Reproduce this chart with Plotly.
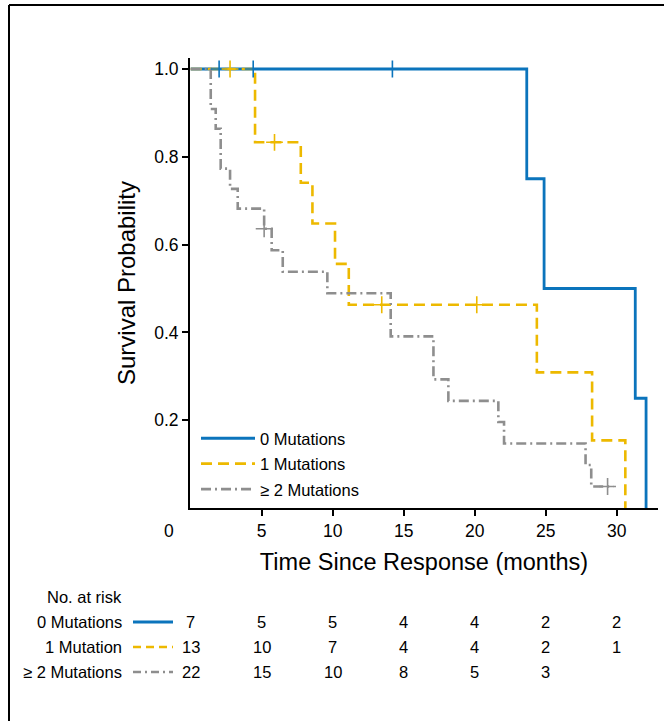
import plotly.graph_objects as go

# ---------------- data ----------------
groups = ["0 Mutations", "1 Mutations", "\u2265 2 Mutations"]
risk_labels = ["0 Mutations", "1 Mutation", "\u2265 2 Mutations"]

# Kaplan-Meier step points (time in months, survival probability)
t0 = [0, 23.66, 24.88, 31.3, 32.06]
s0 = [1.0, 0.75, 0.5, 0.25, 0.0]
c0_t = [2.0, 4.4, 14.2]
c0_s = [1.0, 1.0, 1.0]

t1 = [0, 4.53, 7.75, 8.57, 10.16, 11.13, 24.37, 28.26, 30.6]
s1 = [1.0, 0.833, 0.741, 0.648, 0.556, 0.463, 0.309, 0.154, 0.0]
c1_t = [2.77, 5.9, 13.45, 20.14]
c1_s = [1.0, 0.833, 0.463, 0.463]

t2 = [0, 1.41, 1.76, 2.11, 2.77, 3.31, 5.17, 5.7, 6.48, 9.62, 14.08,
      17.09, 18.14, 21.66, 22.06, 27.8, 28.2, 29.76]
s2 = [1.0, 0.909, 0.864, 0.773, 0.727, 0.682, 0.636, 0.587, 0.538, 0.489,
      0.391, 0.293, 0.244, 0.196, 0.147, 0.098, 0.049, 0.049]
c2_t = [5.17, 29.35]
c2_s = [0.636, 0.049]

x_ticks = [5, 10, 15, 20, 25, 30]
y_ticks = [0.2, 0.4, 0.6, 0.8, 1.0]
y_ticklabels = ["0.2", "0.4", "0.6", "0.8", "1.0"]

risk_times = [0, 5, 10, 15, 20, 25, 30]
risk_0 = [7, 5, 5, 4, 4, 2, 2]
risk_1 = [13, 10, 7, 4, 4, 2, 1]
risk_2 = [22, 15, 10, 8, 5, 3, None]

# ---------------- styles ----------------
FONT = "Liberation Sans, Arial, sans-serif"
colors = ["#0B74BC", "#EDB900", "#8E8E8E"]
dashes = ["solid", "11px,6px", "10px,4px,2px,4px"]
small_dashes = ["solid", "8px,5px", "8px,4px,2px,4px"]
widths = [2.8, 2.6, 2.6]

W, H = 664, 721
ML, MR, MT, MB = 190, 6, 58, 213
PW, PH = W - ML - MR, H - MT - MB


def px_x(p):
    return (p - ML) / PW


def px_y(p):
    return (H - MB - p) / PH


fig = go.Figure()

series = [(t0, s0, c0_t, c0_s), (t1, s1, c1_t, c1_s), (t2, s2, c2_t, c2_s)]
for i, (tt, ss, ct, cs) in enumerate(series):
    fig.add_trace(go.Scatter(
        x=tt, y=ss, mode="lines", name=groups[i], legendgroup="g%d" % i,
        line=dict(color=colors[i], width=widths[i], dash=dashes[i], shape="hv"),
        hoverinfo="skip",
    ))
for i, (tt, ss, ct, cs) in enumerate(series):
    fig.add_trace(go.Scatter(
        x=ct, y=cs, mode="markers", showlegend=False, legendgroup="g%d" % i,
        marker=dict(symbol="cross-thin", size=12,
                    line=dict(color=colors[i], width=1.6)),
        hoverinfo="skip",
    ))

annotations = []
# origin "0" label
annotations.append(dict(xref="paper", yref="paper", x=px_x(169), y=px_y(531),
                        text="0", showarrow=False, xanchor="center", yanchor="middle",
                        font=dict(family=FONT, size=17.5, color="black")))

# number at risk table
row_y = [622, 647, 672]
annotations.append(dict(xref="paper", yref="paper", x=px_x(124), y=px_y(597),
                        text="No. at risk", showarrow=False, xanchor="right",
                        yanchor="middle", font=dict(family=FONT, size=16.5, color="black")))
risks = [risk_0, risk_1, risk_2]
shapes = []
for i in range(3):
    annotations.append(dict(xref="paper", yref="paper", x=px_x(124), y=px_y(row_y[i]),
                            text=risk_labels[i], showarrow=False, xanchor="right",
                            yanchor="middle",
                            font=dict(family=FONT, size=16.5, color="black")))
    shapes.append(dict(type="line", xref="paper", yref="paper",
                       x0=px_x(133), x1=px_x(173), y0=px_y(row_y[i]), y1=px_y(row_y[i]),
                       line=dict(color=colors[i], width=widths[i], dash=small_dashes[i])))
    for tval, n in zip(risk_times, risks[i]):
        if n is None:
            continue
        annotations.append(dict(xref="x", yref="paper", x=tval, y=px_y(row_y[i]),
                                text=str(n), showarrow=False, xanchor="center",
                                yanchor="middle",
                                font=dict(family=FONT, size=16.5, color="black")))

# outer frame (top and left edges)
shapes.append(dict(type="line", xref="paper", yref="paper",
                   x0=px_x(9), x1=px_x(664), y0=px_y(5), y1=px_y(5),
                   line=dict(color="black", width=2)))
shapes.append(dict(type="line", xref="paper", yref="paper",
                   x0=px_x(9), x1=px_x(9), y0=px_y(5), y1=px_y(721),
                   line=dict(color="black", width=2)))

fig.update_layout(
    width=W, height=H,
    margin=dict(l=ML, r=MR, t=MT, b=MB, autoexpand=False),
    paper_bgcolor="white", plot_bgcolor="white",
    font=dict(family=FONT, color="black"),
    showlegend=True,
    legend=dict(x=px_x(196), y=px_y(421), xanchor="left", yanchor="top",
                bgcolor="rgba(0,0,0,0)", itemwidth=54,
                font=dict(family=FONT, size=16.5, color="black"),
                tracegroupgap=1),
    xaxis=dict(range=[-0.05, 32.9], tickvals=x_ticks, ticks="outside", ticklen=6,
               tickwidth=1.5, tickcolor="black", showline=True, linecolor="black",
               linewidth=2, showgrid=False, zeroline=False,
               tickfont=dict(family=FONT, size=17.5),
               title=dict(text="Time Since Response (months)",
                          font=dict(family=FONT, size=23.5), standoff=14)),
    yaxis=dict(range=[0, 1.025], tickvals=y_ticks, ticktext=y_ticklabels,
               ticks="outside", ticklen=6, tickwidth=1.5, tickcolor="black",
               showline=True, linecolor="black", linewidth=2, showgrid=False,
               zeroline=False, tickfont=dict(family=FONT, size=17.5),
               title=dict(text="Survival Probability",
                          font=dict(family=FONT, size=24), standoff=12)),
    annotations=annotations,
    shapes=shapes,
)

fig.write_html("out.html",
               config={"displayModeBar": False},
               post_script="document.body.style.margin='0px';"
                           "document.body.style.overflow='hidden';")
